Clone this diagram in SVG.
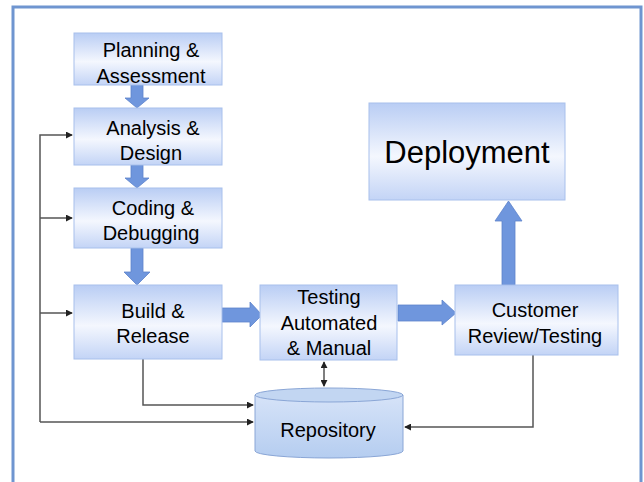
<svg xmlns="http://www.w3.org/2000/svg" width="644" height="482" viewBox="0 0 644 482">
<defs>
<linearGradient id="g" x1="0" y1="0" x2="0" y2="1">
<stop offset="0" stop-color="#b9cdf4"/>
<stop offset="0.55" stop-color="#f4f7fe"/>
<stop offset="1" stop-color="#c3d4f6"/>
</linearGradient>
<linearGradient id="gc" x1="0" y1="0" x2="0" y2="1">
<stop offset="0" stop-color="#d6e3f8"/>
<stop offset="1" stop-color="#b5cdf0"/>
</linearGradient>
<marker id="ah" viewBox="0 0 8 8" refX="7" refY="4" markerWidth="7" markerHeight="7" markerUnits="userSpaceOnUse" orient="auto">
<path d="M0,0 L8,4 L0,8 z" fill="#222"/>
</marker>
<style>
.box{fill:url(#g);stroke:#a8c0ec;stroke-width:1}
.t{font-family:"Liberation Sans",Arial,sans-serif;font-size:20px;fill:#000;text-anchor:middle}
.blk{fill:#6f96dd;stroke:#5d83cc;stroke-width:0.8}
.ln{fill:none;stroke:#555;stroke-width:1.5}
</style>
</defs>
<rect width="644" height="482" fill="#fff"/>
<path d="M13,482 L13,7 L641,7 L641,482" fill="none" stroke="#6f95d0" stroke-width="3"/>

<g id="connectors">
<path class="ln" d="M40,422 L40,135 L72,135" marker-end="url(#ah)"/>
<path class="ln" d="M40,218 L72,218" marker-end="url(#ah)"/>
<path class="ln" d="M40,313 L72,313" marker-end="url(#ah)"/>
<path class="ln" d="M40,422 L253,422" marker-end="url(#ah)"/>
<path class="ln" d="M143,359 L143,405 L253,405" marker-end="url(#ah)"/>
<path class="ln" d="M324,372 L324,386" marker-end="url(#ah)"/>
<path class="ln" d="M324,372 L324,362" marker-end="url(#ah)"/>
<path class="ln" d="M533,355 L533,427 L405,427" marker-end="url(#ah)"/>
<path class="blk" d="M131,85 L143,85 L143,98 L149,98 L137,108 L125,98 L131,98 z"/>
<path class="blk" d="M131,165 L143,165 L143,178 L149,178 L137,188 L125,178 L131,178 z"/>
<path class="blk" d="M131,248 L143,248 L143,272 L150,272 L137,285 L124,272 L131,272 z"/>
<path class="blk" d="M222,308 L250,308 L250,302 L262,315 L250,327 L250,322 L222,322 z"/>
<path class="blk" d="M398,305 L442,305 L442,300 L456,313 L442,325 L442,321 L398,321 z"/>
<path class="blk" d="M502,285 L502,221 L495,221 L508.5,201 L522,221 L515,221 L515,285 z"/>
</g>

<g id="planning">
<rect class="box" x="74" y="33" width="148" height="52"/>
<text class="t" x="151" y="57">Planning &amp;</text>
<text class="t" x="151" y="83">Assessment</text>
</g>
<g id="analysis">
<rect class="box" x="74" y="108" width="148" height="57"/>
<text class="t" x="153" y="135">Analysis &amp;</text>
<text class="t" x="151" y="160">Design</text>
</g>
<g id="coding">
<rect class="box" x="74" y="188" width="148" height="60"/>
<text class="t" x="153" y="215">Coding &amp;</text>
<text class="t" x="151" y="240">Debugging</text>
</g>
<g id="build">
<rect class="box" x="74" y="285" width="148" height="74"/>
<text class="t" x="153" y="318">Build &amp;</text>
<text class="t" x="153" y="343">Release</text>
</g>
<g id="testing">
<rect class="box" x="260" y="285" width="137" height="75"/>
<text class="t" x="329" y="304">Testing</text>
<text class="t" x="329" y="330">Automated</text>
<text class="t" x="329" y="355">&amp; Manual</text>
</g>
<g id="customer">
<rect class="box" x="455" y="285" width="163" height="70"/>
<text class="t" x="535" y="317">Customer</text>
<text class="t" x="535" y="343">Review/Testing</text>
</g>
<g id="deployment">
<rect class="box" x="369" y="103" width="196" height="97"/>
<text class="t" x="467" y="163" style="font-size:31px">Deployment</text>
</g>
<g id="repository">
<path d="M255,395 L255,451 A74,7 0 0 0 403,451 L403,395" fill="url(#gc)" stroke="#8aa6d6" stroke-width="1"/>
<ellipse cx="329" cy="395" rx="74" ry="7" fill="#c2d6f2" stroke="#8aa6d6" stroke-width="1"/>
<text class="t" x="328" y="437">Repository</text>
</g>
</svg>
